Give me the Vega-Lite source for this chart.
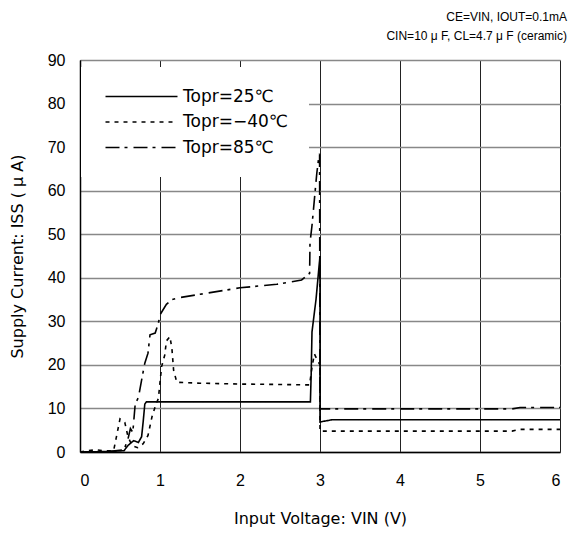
{
  "$schema": "https://vega.github.io/schema/vega-lite/v6.json",
  "width": 480,
  "height": 392,
  "autosize": {"type": "none"},
  "padding": {"left": 80, "top": 60, "right": 9, "bottom": 81},
  "background": "white",
  "title": {
    "text": "CE=VIN, IOUT=0.1mA",
    "subtitle": "CIN=10 μ F, CL=4.7 μ F (ceramic)",
    "anchor": "end",
    "dx": 7,
    "fontSize": 12,
    "subtitleFontSize": 12,
    "fontWeight": "normal",
    "font": "'Liberation Sans', 'Noto Sans CJK JP'",
    "subtitleFont": "'Liberation Sans', 'Noto Sans CJK JP'",
    "subtitlePadding": 7,
    "offset": 9,
    "color": "black",
    "subtitleColor": "black"
  },
  "config": {
    "view": {"stroke": "#888", "strokeWidth": 1},
    "font": "'Liberation Sans', 'Noto Sans CJK JP'"
  },
  "data": {
    "values": [
      {"s": "Topr=25℃", "o": 1, "v": 0, "i": 0},
      {"s": "Topr=25℃", "o": 2, "v": 0.3, "i": 0.1},
      {"s": "Topr=25℃", "o": 3, "v": 0.45, "i": 0.2},
      {"s": "Topr=25℃", "o": 4, "v": 0.55, "i": 0.3},
      {"s": "Topr=25℃", "o": 5, "v": 0.6, "i": 1.5},
      {"s": "Topr=25℃", "o": 6, "v": 0.67, "i": 2.6},
      {"s": "Topr=25℃", "o": 7, "v": 0.73, "i": 2.2},
      {"s": "Topr=25℃", "o": 8, "v": 0.77, "i": 3.5},
      {"s": "Topr=25℃", "o": 9, "v": 0.79, "i": 7},
      {"s": "Topr=25℃", "o": 10, "v": 0.81, "i": 11},
      {"s": "Topr=25℃", "o": 11, "v": 0.83, "i": 11.5},
      {"s": "Topr=25℃", "o": 12, "v": 1.5, "i": 11.5},
      {"s": "Topr=25℃", "o": 13, "v": 2.0, "i": 11.5},
      {"s": "Topr=25℃", "o": 14, "v": 2.5, "i": 11.5},
      {"s": "Topr=25℃", "o": 15, "v": 2.88, "i": 11.5},
      {"s": "Topr=25℃", "o": 16, "v": 2.89, "i": 18},
      {"s": "Topr=25℃", "o": 17, "v": 2.9, "i": 27.6},
      {"s": "Topr=25℃", "o": 18, "v": 2.95, "i": 35},
      {"s": "Topr=25℃", "o": 19, "v": 2.98, "i": 41},
      {"s": "Topr=25℃", "o": 20, "v": 3.0, "i": 45},
      {"s": "Topr=25℃", "o": 21, "v": 3.0, "i": 6.9},
      {"s": "Topr=25℃", "o": 22, "v": 3.15, "i": 7.4},
      {"s": "Topr=25℃", "o": 23, "v": 4.0, "i": 7.4},
      {"s": "Topr=25℃", "o": 24, "v": 5.0, "i": 7.4},
      {"s": "Topr=25℃", "o": 25, "v": 6.0, "i": 7.4},
      {"s": "Topr=−40℃", "o": 1, "v": 0, "i": 0},
      {"s": "Topr=−40℃", "o": 2, "v": 0.1, "i": 0.3},
      {"s": "Topr=−40℃", "o": 3, "v": 0.2, "i": 0.5},
      {"s": "Topr=−40℃", "o": 4, "v": 0.3, "i": 0.3},
      {"s": "Topr=−40℃", "o": 5, "v": 0.42, "i": 0.3},
      {"s": "Topr=−40℃", "o": 6, "v": 0.45, "i": 3},
      {"s": "Topr=−40℃", "o": 7, "v": 0.5, "i": 7.6},
      {"s": "Topr=−40℃", "o": 8, "v": 0.56, "i": 6.8},
      {"s": "Topr=−40℃", "o": 9, "v": 0.6, "i": 3.5},
      {"s": "Topr=−40℃", "o": 10, "v": 0.65, "i": 1.5},
      {"s": "Topr=−40℃", "o": 11, "v": 0.72, "i": 1.0},
      {"s": "Topr=−40℃", "o": 12, "v": 0.79, "i": 1.9},
      {"s": "Topr=−40℃", "o": 13, "v": 0.85, "i": 3.8},
      {"s": "Topr=−40℃", "o": 14, "v": 0.9, "i": 8.1},
      {"s": "Topr=−40℃", "o": 15, "v": 0.95, "i": 11},
      {"s": "Topr=−40℃", "o": 16, "v": 0.98, "i": 12.3},
      {"s": "Topr=−40℃", "o": 17, "v": 1.02, "i": 19.6},
      {"s": "Topr=−40℃", "o": 18, "v": 1.06, "i": 22.3},
      {"s": "Topr=−40℃", "o": 19, "v": 1.08, "i": 25.5},
      {"s": "Topr=−40℃", "o": 20, "v": 1.125, "i": 26.5},
      {"s": "Topr=−40℃", "o": 21, "v": 1.15, "i": 23.5},
      {"s": "Topr=−40℃", "o": 22, "v": 1.17, "i": 18.8},
      {"s": "Topr=−40℃", "o": 23, "v": 1.21, "i": 16.0},
      {"s": "Topr=−40℃", "o": 24, "v": 1.5, "i": 15.8},
      {"s": "Topr=−40℃", "o": 25, "v": 2.0, "i": 15.6},
      {"s": "Topr=−40℃", "o": 26, "v": 2.5, "i": 15.5},
      {"s": "Topr=−40℃", "o": 27, "v": 2.87, "i": 15.4},
      {"s": "Topr=−40℃", "o": 28, "v": 2.9, "i": 19.5},
      {"s": "Topr=−40℃", "o": 29, "v": 2.93, "i": 22.5},
      {"s": "Topr=−40℃", "o": 30, "v": 2.97, "i": 21},
      {"s": "Topr=−40℃", "o": 31, "v": 3.0, "i": 20},
      {"s": "Topr=−40℃", "o": 32, "v": 3.0, "i": 4.8},
      {"s": "Topr=−40℃", "o": 33, "v": 4.0, "i": 4.8},
      {"s": "Topr=−40℃", "o": 34, "v": 5.4, "i": 4.8},
      {"s": "Topr=−40℃", "o": 35, "v": 5.5, "i": 5.2},
      {"s": "Topr=−40℃", "o": 36, "v": 6.0, "i": 5.2},
      {"s": "Topr=85℃", "o": 1, "v": 0, "i": 0},
      {"s": "Topr=85℃", "o": 2, "v": 0.3, "i": 0},
      {"s": "Topr=85℃", "o": 3, "v": 0.55, "i": 0.5},
      {"s": "Topr=85℃", "o": 4, "v": 0.6, "i": 3},
      {"s": "Topr=85℃", "o": 5, "v": 0.63, "i": 5.4},
      {"s": "Topr=85℃", "o": 6, "v": 0.66, "i": 4.5},
      {"s": "Topr=85℃", "o": 7, "v": 0.69, "i": 11},
      {"s": "Topr=85℃", "o": 8, "v": 0.73, "i": 12.5},
      {"s": "Topr=85℃", "o": 9, "v": 0.77, "i": 16.5},
      {"s": "Topr=85℃", "o": 10, "v": 0.81, "i": 20.4},
      {"s": "Topr=85℃", "o": 11, "v": 0.85, "i": 22.7},
      {"s": "Topr=85℃", "o": 12, "v": 0.875, "i": 26.9},
      {"s": "Topr=85℃", "o": 13, "v": 0.94, "i": 27.3},
      {"s": "Topr=85℃", "o": 14, "v": 0.98, "i": 29.6},
      {"s": "Topr=85℃", "o": 15, "v": 1.0, "i": 31.5},
      {"s": "Topr=85℃", "o": 16, "v": 1.08, "i": 33.9},
      {"s": "Topr=85℃", "o": 17, "v": 1.15, "i": 35},
      {"s": "Topr=85℃", "o": 18, "v": 1.23, "i": 35.4},
      {"s": "Topr=85℃", "o": 19, "v": 1.5, "i": 36.2},
      {"s": "Topr=85℃", "o": 20, "v": 2.0, "i": 37.7},
      {"s": "Topr=85℃", "o": 21, "v": 2.46, "i": 38.5},
      {"s": "Topr=85℃", "o": 22, "v": 2.77, "i": 39.5},
      {"s": "Topr=85℃", "o": 23, "v": 2.83, "i": 40.4},
      {"s": "Topr=85℃", "o": 24, "v": 2.87, "i": 41},
      {"s": "Topr=85℃", "o": 25, "v": 2.875, "i": 48},
      {"s": "Topr=85℃", "o": 26, "v": 2.9, "i": 52},
      {"s": "Topr=85℃", "o": 27, "v": 2.93, "i": 58},
      {"s": "Topr=85℃", "o": 28, "v": 2.96, "i": 64},
      {"s": "Topr=85℃", "o": 29, "v": 2.98, "i": 67},
      {"s": "Topr=85℃", "o": 30, "v": 2.995, "i": 68.5},
      {"s": "Topr=85℃", "o": 31, "v": 3.0, "i": 9.9},
      {"s": "Topr=85℃", "o": 32, "v": 4.0, "i": 9.9},
      {"s": "Topr=85℃", "o": 33, "v": 5.4, "i": 9.9},
      {"s": "Topr=85℃", "o": 34, "v": 5.5, "i": 10.2},
      {"s": "Topr=85℃", "o": 35, "v": 6.0, "i": 10.2}
    ]
  },
  "mark": {"type": "line", "color": "black", "strokeWidth": 1.6, "clip": true},
  "encoding": {
    "x": {
      "field": "v", "type": "quantitative",
      "scale": {"domain": [0, 6], "nice": false},
      "axis": {
        "title": "Input Voltage: VIN (V)",
        "values": [0, 1, 2, 3, 4, 5, 6],
        "format": "d",
        "ticks": false,
        "labelPadding": 20,
        "labelFontSize": 16,
        "labelColor": "black",
        "titleFont": "DejaVu Sans",
        "titleFontSize": 16,
        "titleFontWeight": "normal",
        "titleColor": "black",
        "titlePadding": 22,
        "domainColor": "black",
        "domainWidth": 1.5,
        "gridColor": "#222",
        "gridWidth": 1,
        "gridOpacity": 1
      }
    },
    "y": {
      "field": "i", "type": "quantitative",
      "scale": {"domain": [0, 90], "nice": false},
      "axis": {
        "title": "Supply Current: ISS ( μ A)",
        "values": [0, 10, 20, 30, 40, 50, 60, 70, 80, 90],
        "ticks": false,
        "labelPadding": 15,
        "labelFontSize": 16,
        "labelColor": "black",
        "titleFont": "DejaVu Sans",
        "titleFontSize": 16,
        "titleFontWeight": "normal",
        "titleColor": "black",
        "titlePadding": 22,
        "domainColor": "black",
        "domainWidth": 1.5,
        "gridColor": "#888",
        "gridWidth": 1.5,
        "gridOpacity": 1
      }
    },
    "order": {"field": "o", "type": "quantitative"},
    "strokeDash": {
      "field": "s", "type": "nominal",
      "scale": {
        "domain": ["Topr=25℃", "Topr=−40℃", "Topr=85℃"],
        "range": [[1, 0], [4, 5], [14, 5, 3, 6]]
      },
      "legend": {
        "title": null,
        "orient": "none",
        "legendX": 1,
        "legendY": 7,
        "fillColor": "white",
        "padding": 21,
        "symbolType": "M-1,0H13.4",
        "symbolSize": 100,
        "symbolStrokeWidth": 1.6,
        "symbolStrokeColor": "black",
        "symbolFillColor": "transparent",
        "labelFont": "DejaVu Sans",
        "labelFontSize": 17,
        "labelColor": "black",
        "labelOffset": 64,
        "rowPadding": 7.5
      }
    }
  }
}
